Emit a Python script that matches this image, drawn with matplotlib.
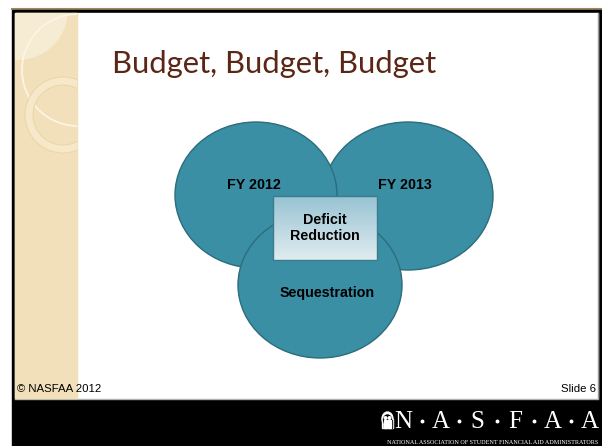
import numpy as np
import matplotlib
matplotlib.use("Agg")
import matplotlib.pyplot as plt
from matplotlib.colors import LinearSegmentedColormap
from matplotlib.patches import Ellipse, Rectangle, Circle

# Venn content
circle_labels = ["FY 2012", "FY 2013", "Sequestration"]
center_label = "Deficit\nReduction"
title = "Budget, Budget, Budget"
footer_left = "© NASFAA 2012"
footer_right = "Slide 6"
logo_letters = ["N", "A", "S", "F", "A", "A"]
logo_sub = "NATIONAL ASSOCIATION OF STUDENT FINANCIAL AID ADMINISTRATORS"

W, H = 602, 446
fig = plt.figure(figsize=(W / 100, H / 100), dpi=100)
ax = fig.add_axes([0, 0, 1, 1])
ax.set_xlim(0, W)
ax.set_ylim(H, 0)
ax.axis("off")

# slide frame
ax.add_patch(Rectangle((0, 0), W, H, color="white", zorder=0))
ax.plot([12, 602], [8.5, 8.5], color="#9c8664", lw=1.5, zorder=1)
ax.add_patch(Rectangle((12, 10), 590, 436, color="black", zorder=1))
ax.add_patch(Rectangle((15, 13), 583, 385, color="white", zorder=2))
ax.plot([15, 598], [398.5, 398.5], color="#b0b0b0", lw=1, zorder=3)
ax.plot([598, 598], [13, 398], color="#9a9a9a", lw=1, zorder=3)

# tan side panel with soft decorations
plt.rcParams["hatch.color"] = "#fbf4e6"
panel = Rectangle((15, 13), 62, 385, color="#f1e0b9", zorder=3)
ax.add_patch(panel)
deco = [
    Circle((18, 10), 50, fc="#f6ebd3", ec="none", hatch="++", zorder=3.5),
    Circle((78, 70), 56, fill=False, ec="#fcf5e6", lw=1.3, zorder=4),
    Circle((63, 115), 34, fill=False, ec="#f6e8c8", lw=5.8, zorder=4),
    Circle((63, 115), 38, fill=False, ec="#e8d3a6", lw=0.6, zorder=4.2),
    Circle((63, 115), 30, fill=False, ec="#e8d3a6", lw=0.6, zorder=4.2),
]
for p in deco:
    ax.add_patch(p)
    p.set_clip_path(panel)

ax.text(112, 73, title, fontsize=22.3, color="#5a2616", family="Lato",
        ha="left", va="baseline", zorder=6)

# circles
fill, edge = "#3b8fa4", "#2b6d7d"
ax.add_patch(Ellipse((408, 196), 170, 148, fc=fill, ec=edge, lw=1, zorder=6))
ax.add_patch(Ellipse((256, 195), 162, 146, fc=fill, ec=edge, lw=1, zorder=6.2))
ax.add_patch(Ellipse((320, 285), 164, 146, fc=fill, ec=edge, lw=1, zorder=7))

label_pos = [(254, 185), (405, 185), (327, 293)]
for lab, (x, y) in zip(circle_labels, label_pos):
    ax.text(x, y, lab, fontsize=10.3, fontweight="bold", family="Liberation Sans",
            ha="center", va="center", color="black", zorder=9)

# gradient box in the middle
grad = np.linspace(0, 1, 100)[:, None]
cmap = LinearSegmentedColormap.from_list("g", ["#98c3d3", "#e0ecf0"])
ax.imshow(grad, cmap=cmap, extent=(273, 377, 260, 196), aspect="auto", zorder=8)
ax.add_patch(Rectangle((273, 196), 104, 64, fill=False, ec="#3b7c8c", lw=1, zorder=8.5))
ax.text(325, 228, center_label, fontsize=10.3, fontweight="bold",
        family="Liberation Sans", ha="center", va="center",
        linespacing=1.25, zorder=9)

ax.set_xlim(0, W)
ax.set_ylim(H, 0)

# footer
ax.text(17, 389, footer_left, fontsize=8.2, family="Liberation Sans",
        ha="left", va="center", color="black", zorder=9)
ax.text(596, 389, footer_right, fontsize=8.2, family="Liberation Sans",
        ha="right", va="center", color="black", zorder=9)

# logo in black band
xs = np.linspace(403, 590, len(logo_letters))
for i, (x, ch) in enumerate(zip(xs, logo_letters)):
    ax.text(x, 428, ch, fontsize=18, family="Liberation Serif",
            ha="center", va="baseline", color="white", zorder=9)
    if i < len(xs) - 1:
        ax.plot((x + xs[i + 1]) / 2, 421, "o", ms=1.8, color="white", zorder=9)
ax.text(598, 443, logo_sub, fontsize=4.4, family="Liberation Serif",
        ha="right", va="center", color="white", zorder=9)
# small emblem: arch with two figures
ax.add_patch(Ellipse((387.5, 419), 11, 14, color="white", zorder=9))
ax.add_patch(Rectangle((382, 419), 11, 9, color="white", zorder=9))
ax.add_patch(Ellipse((387.5, 420), 8, 10, color="black", zorder=9.5))
ax.add_patch(Rectangle((383.5, 420), 8, 8, color="black", zorder=9.5))
for cx in (385.5, 389.5):
    ax.add_patch(Circle((cx, 418), 1.3, color="white", zorder=10))
    ax.add_patch(Rectangle((cx - 1.3, 420), 2.6, 8, color="white", zorder=10))

fig.savefig("out.png", dpi=100)
